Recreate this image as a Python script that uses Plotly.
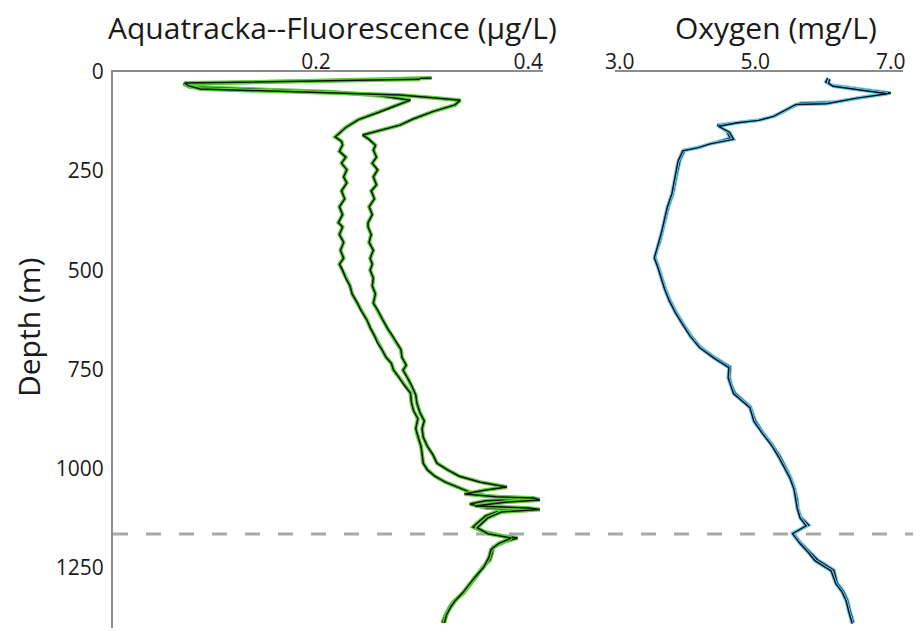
import plotly.graph_objects as go

# ---------------- data ----------------
fluor_a_depth = [15, 22, 30, 38, 44, 50, 60, 71, 85, 101, 120, 140, 164, 175, 184, 200, 215, 230, 247, 265,
                 280, 300, 320, 340, 360, 380, 391, 410, 430, 450, 470, 485, 500, 520, 540, 560, 583, 600, 626,
                 645, 665, 684, 700, 720, 735, 752, 770, 790, 810, 835, 855, 875, 900, 921, 945, 965, 987, 1004,
                 1020, 1035, 1047, 1060, 1070, 1075, 1078, 1082, 1090, 1100, 1105, 1110, 1120, 1138, 1148, 1160,
                 1170, 1176, 1185, 1199, 1215, 1231, 1250, 1274, 1295, 1315, 1335, 1350, 1370, 1390]
fluor_a_value = [0.309, 0.200, 0.075, 0.081, 0.150, 0.213, 0.260, 0.289, 0.275, 0.260, 0.240, 0.228, 0.218,
                 0.224, 0.225, 0.222, 0.228, 0.224, 0.229, 0.226, 0.229, 0.224, 0.227, 0.222, 0.225, 0.221,
                 0.225, 0.222, 0.226, 0.223, 0.226, 0.222, 0.225, 0.228, 0.232, 0.234, 0.239, 0.242, 0.248,
                 0.251, 0.255, 0.258, 0.262, 0.266, 0.271, 0.273, 0.278, 0.283, 0.289, 0.290, 0.292, 0.296,
                 0.294, 0.296, 0.299, 0.300, 0.301, 0.305, 0.312, 0.322, 0.333, 0.345, 0.360, 0.395, 0.411,
                 0.360, 0.345, 0.361, 0.400, 0.370, 0.360, 0.352, 0.348, 0.358, 0.375, 0.390, 0.378, 0.367,
                 0.366, 0.364, 0.357, 0.351, 0.345, 0.339, 0.330, 0.326, 0.322, 0.319]

fluor_b_depth = [18, 24, 28, 35, 43, 50, 58, 65, 71, 83, 100, 118, 134, 159, 170, 185, 197, 215, 230, 247, 265,
                 285, 300, 320, 340, 360, 380, 391, 410, 430, 450, 470, 485, 500, 520, 540, 560, 583, 600, 626,
                 650, 665, 684, 700, 720, 740, 752, 770, 790, 815, 835, 860, 880, 900, 921, 945, 965, 987, 1004,
                 1020, 1035, 1047, 1055, 1065, 1072, 1075, 1080, 1085, 1095, 1100, 1104, 1110, 1125, 1140, 1150,
                 1165, 1176, 1190, 1205, 1225, 1250, 1274, 1295, 1315, 1335, 1350, 1370, 1390]
fluor_b_value = [0.298, 0.180, 0.076, 0.080, 0.091, 0.180, 0.279, 0.310, 0.336, 0.331, 0.310, 0.292, 0.279,
                 0.244, 0.250, 0.256, 0.254, 0.257, 0.253, 0.258, 0.254, 0.257, 0.252, 0.255, 0.250, 0.253,
                 0.249, 0.249, 0.252, 0.250, 0.254, 0.251, 0.253, 0.251, 0.254, 0.253, 0.256, 0.254, 0.258,
                 0.263, 0.268, 0.272, 0.276, 0.280, 0.281, 0.285, 0.282, 0.286, 0.290, 0.294, 0.295, 0.298,
                 0.302, 0.300, 0.301, 0.305, 0.310, 0.314, 0.324, 0.335, 0.355, 0.380, 0.360, 0.340, 0.370,
                 0.405, 0.411, 0.380, 0.350, 0.400, 0.411, 0.375, 0.362, 0.356, 0.352, 0.362, 0.384, 0.372,
                 0.365, 0.363, 0.358, 0.350, 0.344, 0.338, 0.331, 0.327, 0.323, 0.321]

oxy_a_depth = [15, 25, 33, 45, 53, 63, 76, 78, 96, 110, 121, 126, 134, 150, 167, 180, 189, 197, 222, 260, 305,
               340, 373, 400, 431, 449, 467, 490, 517, 545, 575, 605, 633, 665, 694, 720, 744, 770, 790, 810,
               845, 880, 911, 940, 971, 1000, 1022, 1050, 1080, 1100, 1123, 1143, 1163, 1188, 1210, 1231, 1257,
               1290, 1310, 1332, 1360, 1390]
oxy_a_value = [6.07, 6.04, 6.11, 6.60, 7.00, 6.60, 6.16, 5.67, 5.47, 5.30, 5.07, 4.78, 4.44, 4.58, 4.63, 4.35,
               4.19, 3.96, 3.89, 3.84, 3.79, 3.72, 3.67, 3.64, 3.59, 3.55, 3.52, 3.57, 3.62, 3.67, 3.74, 3.83,
               3.93, 4.05, 4.19, 4.40, 4.63, 4.62, 4.65, 4.70, 4.93, 5.00, 5.12, 5.25, 5.37, 5.45, 5.52, 5.58,
               5.62, 5.63, 5.67, 5.79, 5.56, 5.67, 5.80, 5.92, 6.16, 6.21, 6.30, 6.36, 6.40, 6.45]

oxy_b_depth = [18, 28, 36, 48, 55, 66, 80, 82, 98, 112, 122, 128, 137, 152, 170, 182, 191, 199, 225, 262, 307,
               342, 375, 402, 433, 451, 469, 492, 519, 547, 577, 607, 635, 667, 696, 722, 746, 772, 792, 812,
               847, 882, 913, 942, 973, 1002, 1024, 1052, 1082, 1102, 1125, 1145, 1165, 1190, 1212, 1233, 1259,
               1292, 1312, 1334, 1362, 1392]
oxy_b_value = [6.10, 6.08, 6.15, 6.70, 6.95, 6.50, 6.05, 5.60, 5.42, 5.27, 5.05, 4.74, 4.46, 4.62, 4.68, 4.32,
               4.16, 3.93, 3.86, 3.82, 3.77, 3.70, 3.66, 3.62, 3.57, 3.54, 3.51, 3.56, 3.61, 3.66, 3.73, 3.82,
               3.92, 4.04, 4.18, 4.39, 4.61, 4.60, 4.64, 4.68, 4.92, 4.98, 5.11, 5.24, 5.35, 5.44, 5.51, 5.57,
               5.60, 5.62, 5.66, 5.75, 5.55, 5.66, 5.78, 5.88, 6.12, 6.19, 6.28, 6.34, 6.38, 6.43]

fluor_ticks = [0.2, 0.4]
oxy_ticks = [3.0, 5.0, 7.0]
depth_ticks = [0, 250, 500, 750, 1000, 1250]
boundary_depth = 1166

# ---------------- figure ----------------
FONT = "Open Sans"
AXIS_COLOR = "#8c8c8c"
GREEN = "#5ccf3a"
CYAN = "#6cc9ea"

fig = go.Figure()

for d, v in [(fluor_a_depth, fluor_a_value), (fluor_b_depth, fluor_b_value)]:
    fig.add_trace(go.Scatter(x=v, y=d, mode="lines", line=dict(color=GREEN, width=4),
                             xaxis="x", yaxis="y", showlegend=False, hoverinfo="skip"))
    fig.add_trace(go.Scatter(x=v, y=d, mode="lines", line=dict(color="#111111", width=1.5),
                             xaxis="x", yaxis="y", showlegend=False))

for d, v in [(oxy_a_depth, oxy_a_value), (oxy_b_depth, oxy_b_value)]:
    fig.add_trace(go.Scatter(x=v, y=d, mode="lines", line=dict(color=CYAN, width=3.5),
                             xaxis="x2", yaxis="y", showlegend=False, hoverinfo="skip"))
    fig.add_trace(go.Scatter(x=v, y=d, mode="lines", line=dict(color="#0d0d1a", width=1.4),
                             xaxis="x2", yaxis="y", showlegend=False))

# page has an 8px body margin, so figure pixel = page pixel - 8
W, H = 913, 623
T = 64
PH = 556
fig.update_layout(
    width=W, height=H,
    margin=dict(l=0, r=0, t=T, b=H - T - PH, pad=0),
    paper_bgcolor="white", plot_bgcolor="white",
    font=dict(family=FONT, size=21, color="#1a1a1a"),
    xaxis=dict(domain=[105 / W, 535 / W], range=[0.0085, 0.414], side="top", anchor="y",
               showline=True, linecolor=AXIS_COLOR, linewidth=2, showgrid=False, zeroline=False,
               ticks="", tickvals=fluor_ticks, ticktext=["0.2", "0.4"], ticklabelstandoff=-7,
               automargin=False, fixedrange=True),
    xaxis2=dict(domain=[607 / W, 895 / W], range=[2.93, 7.18], side="top", anchor="y",
                showline=True, linecolor=AXIS_COLOR, linewidth=2, showgrid=False, zeroline=False,
                ticks="", tickvals=oxy_ticks, ticktext=["3.0", "5.0", "7.0"], ticklabelstandoff=-7,
                automargin=False, fixedrange=True),
    yaxis=dict(domain=[0, 1], range=[1403, 0], anchor="x", showline=True, linecolor=AXIS_COLOR,
               linewidth=2, showgrid=False, zeroline=False, ticks="", tickvals=depth_ticks,
               ticklabelstandoff=3, automargin=False, fixedrange=True),
    shapes=[dict(type="line", xref="paper", yref="y", x0=105 / W, x1=1.0,
                 y0=boundary_depth, y1=boundary_depth, layer="below",
                 line=dict(color="#a8a8a8", width=3, dash="15px,18px"))],
    annotations=[
        dict(text="Aquatracka--Fluorescence (µg/L)", xref="paper", yref="paper",
             x=324 / W, y=1 + (T - 19) / PH, xanchor="center", yanchor="middle",
             showarrow=False, font=dict(family=FONT, size=30, color="#1a1a1a")),
        dict(text="Oxygen (mg/L)", xref="paper", yref="paper",
             x=768 / W, y=1 + (T - 19) / PH, xanchor="center", yanchor="middle",
             showarrow=False, font=dict(family=FONT, size=30, color="#1a1a1a")),
        dict(text="Depth (m)", xref="paper", yref="paper", textangle=-90,
             x=20 / W, y=1 - (320 - T) / PH, xanchor="center", yanchor="middle",
             showarrow=False, font=dict(family=FONT, size=30, color="#1a1a1a")),
    ],
)

fig.write_html("out.html")
